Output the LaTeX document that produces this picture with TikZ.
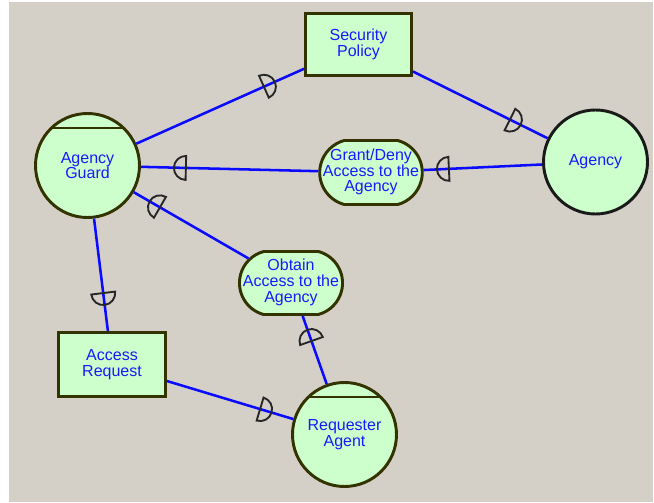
\documentclass[tikz,border=0pt]{standalone}
\usepackage{fontspec}
\setmainfont{Liberation Sans}
\usetikzlibrary{calc,shapes.misc}
\definecolor{bggray}{RGB}{212,208,200}
\definecolor{leaf}{RGB}{204,255,204}
\definecolor{olive}{RGB}{51,51,0}
\definecolor{ink}{RGB}{25,25,255}
\definecolor{wire}{RGB}{10,10,255}
% task labels spill past the flat part of the rounded shape
\newcommand\tasktext[1]{\makebox[61.5pt]{\begin{tabular}{@{}c@{}}#1\end{tabular}}}
\begin{document}
\begin{tikzpicture}[x=0.75pt,y=-0.75pt,
  base/.style={fill=leaf, draw=olive, line width=2.2pt, text=ink, align=center,
    inner sep=0pt, font=\fontsize{12}{11.5}\selectfont},
  actor/.style={base, circle, minimum size=78pt},
  resource/.style={base, rectangle},
  task/.style={base, rounded rectangle, rounded rectangle arc length=150},
  link/.style={draw=wire, line width=1.9pt},
  dee/.pic={\draw[line width=1.4pt, draw=black!85]
    (0,-9pt) arc[start angle=-90, end angle=90, radius=9pt] -- cycle;},
  dlink/.style={pos=#1, sloped, allow upside down},
]
% canvas
\fill[white] (0,0) rectangle (654,503);
\fill[bggray] (9,2) rectangle (653,502);

% actors, resources and tasks
\node[actor] (AG) at (87.5,165.5) {Agency\\Guard};
\node[actor, draw=black!90] (AY) at (595.5,162) {Agency};
\node[actor] (RA) at (344.5,434.5) {Requester\\Agent};
\node[resource, minimum width=79.5pt, minimum height=46.5pt] (SP) at (358.5,44.5) {Security\\Policy};
\node[resource, minimum width=80.25pt, minimum height=48pt] (AR) at (112,364.5) {Access\\Request};
\node[task, minimum height=48pt] (GD) at (371,172.5) {\tasktext{Grant/Deny\\Access to the\\Agency}};
\node[task, minimum height=47.25pt] (OA) at (291,283) {\tasktext{Obtain\\Access to the\\Agency}};

% role bars on the actor circles
\draw[olive, line width=1.5pt] ($(AG)+(-36,-37.5)$) -- ($(AG)+(36,-37.5)$);
\draw[olive, line width=1.5pt] ($(RA)+(-36,-37.5)$) -- ($(RA)+(36,-37.5)$);

% dependency links
\draw[link] (AG) -- (SP);
\draw[link] (SP) -- (AY);
\draw[link] (AG) -- (GD);
\draw[link] (GD) -- (AY);
\draw[link] (AG) -- (OA);
\draw[link] (OA) -- (RA);
\draw[link] (AG) -- (AR);
\draw[link] (AR) -- (RA);

% dependency marks
\path (AG.center) -- (SP.center) pic[dlink=0.651]{dee};
\path (SP.center) -- (AY.center) pic[dlink=0.639]{dee};
\path (GD.center) -- (AG.center) pic[dlink=0.653]{dee};
\path (AY.center) -- (GD.center) pic[dlink=0.653]{dee};
\path (RA.center) -- (OA.center) pic[dlink=0.617]{dee};
\path (OA.center) -- (AG.center) pic[dlink=0.644]{dee};
\path (AG.center) -- (AR.center) pic[dlink=0.641]{dee};
\path (AR.center) -- (RA.center) pic[dlink=0.637]{dee};
\end{tikzpicture}
\end{document}
